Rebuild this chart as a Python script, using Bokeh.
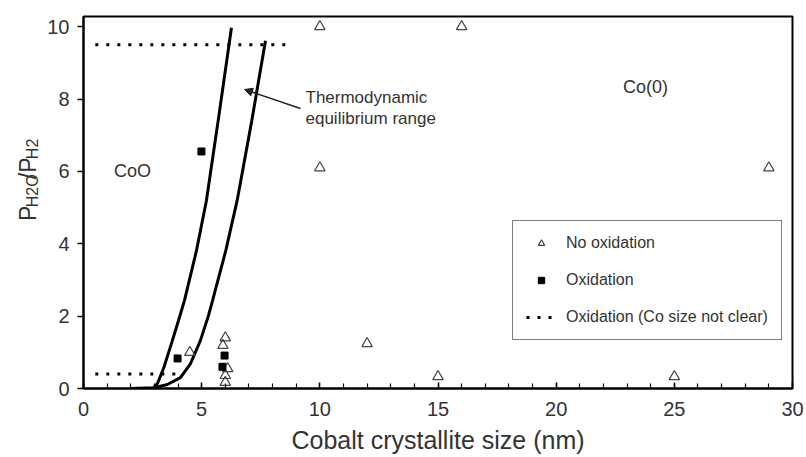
import math
from bokeh.plotting import figure
from bokeh.layouts import row
from bokeh.models import (Range1d, SingleIntervalTicker, FixedTicker, Label, Arrow,
                          NormalHead, Legend, LegendItem)
from bokeh.core.properties import value
from bokeh.embed import file_html
from bokeh.resources import INLINE

# ---------------- data ----------------
no_ox_x = [4.5, 5.9, 6.0, 6.1, 6.0, 6.0, 10, 16, 10, 29, 12, 15, 25]
no_ox_y = [1.0, 1.19, 1.4, 0.55, 0.36, 0.17, 10, 10, 6.1, 6.1, 1.24, 0.33, 0.33]

ox_x = [3.98, 5.97, 5.88, 4.99]
ox_y = [0.83, 0.91, 0.60, 6.55]

unclear_y = [9.5, 0.4]
unclear_x0 = [0.5, 0.5]
unclear_x1 = [8.8, 4.0]

eq_left_x = [1.99, 2.96, 3.13, 3.40, 3.72, 4.02, 4.27, 4.78, 5.20, 5.72, 6.26]
eq_left_y = [0.0, 0.02, 0.14, 0.58, 1.24, 1.88, 2.43, 3.81, 5.19, 7.50, 9.97]
eq_right_x = [3.05, 3.55, 4.10, 4.53, 4.95, 5.29, 5.46, 6.02, 6.50, 7.12, 7.70]
eq_right_y = [0.03, 0.11, 0.30, 0.69, 1.33, 2.02, 2.43, 3.81, 5.19, 7.40, 9.61]

y_ticks = [0, 2, 4, 6, 8, 10]

FONT = "Liberation Sans"
TXT = "#333333"

W, H = 806, 457
LBL_W = 40

p = figure(width=W - LBL_W, height=H, x_range=Range1d(0, 30), y_range=Range1d(0, 10.28),
           output_backend="svg", toolbar_location=None,
           min_border_left=83 - LBL_W, min_border_right=14, min_border_top=16,
           min_border_bottom=69)
p.xgrid.visible = False
p.ygrid.visible = False
p.outline_line_color = "black"
p.outline_line_width = 2
p.background_fill_color = "white"
p.border_fill_color = "white"

# x axis
xa = p.xaxis[0]
xa.ticker = SingleIntervalTicker(interval=5, num_minor_ticks=5)
xa.axis_line_width = 2
xa.axis_line_color = "black"
xa.major_tick_in = 6
xa.major_tick_out = 0
xa.minor_tick_in = 5
xa.minor_tick_out = 0
xa.major_tick_line_width = 1.5
xa.minor_tick_line_width = 1.2
xa.major_label_text_font = FONT
xa.major_label_text_font_size = "20px"
xa.major_label_text_color = TXT
xa.major_label_standoff = 13
xa.axis_label = "Cobalt crystallite size (nm)"
xa.axis_label_text_font = FONT
xa.axis_label_text_font_size = "25px"
xa.axis_label_text_font_style = "normal"
xa.axis_label_text_color = TXT
xa.axis_label_standoff = 7

# y axis
ya = p.yaxis[0]
ya.ticker = FixedTicker(ticks=y_ticks)
ya.axis_line_width = 2
ya.axis_line_color = "black"
ya.major_tick_in = 0
ya.major_tick_out = 6
ya.minor_tick_in = 0
ya.minor_tick_out = 0
ya.major_tick_line_width = 1.5
ya.major_label_text_font = FONT
ya.major_label_text_font_size = "20px"
ya.major_label_text_color = TXT
ya.major_label_standoff = 8

# ---------------- glyphs ----------------
r_left = p.line(eq_left_x, eq_left_y, line_color="black", line_width=3)
r_right = p.line(eq_right_x, eq_right_y, line_color="black", line_width=3)

r_unclear = p.segment(x0=unclear_x0, y0=unclear_y, x1=unclear_x1, y1=unclear_y,
                      line_color="black", line_width=3, line_dash="3 8")

r_tri = p.scatter(no_ox_x, no_ox_y, marker="triangle", size=10.5, fill_color=None,
                  line_color="#444444", line_width=1.2)
r_sq = p.scatter(ox_x, ox_y, marker="square", size=7, fill_color="black",
                 line_color="black")

# ---------------- annotations ----------------
def px_x(px):
    return (px - 83) / (709 / 30)

def px_y(py):
    return (388 - py) / (372 / 10.28)

p.add_layout(Label(x=px_x(132), y=px_y(170), text="CoO", text_align="center",
                   text_baseline="middle", text_font=FONT, text_font_size="18px",
                   text_color=TXT))
p.add_layout(Label(x=px_x(645), y=px_y(86), text="Co(0)", text_align="center",
                   text_baseline="middle", text_font=FONT, text_font_size="18px",
                   text_color=TXT))
p.add_layout(Label(x=px_x(305), y=px_y(97), text="Thermodynamic", text_align="left",
                   text_baseline="middle", text_font=FONT, text_font_size="17px",
                   text_color=TXT))
p.add_layout(Label(x=px_x(305), y=px_y(118), text="equilibrium range", text_align="left",
                   text_baseline="middle", text_font=FONT, text_font_size="17px",
                   text_color=TXT))
p.add_layout(Arrow(x_start=px_x(300), y_start=px_y(108), x_end=px_x(244), y_end=px_y(89),
                   line_color="#222222", line_width=1.5,
                   end=NormalHead(size=8, fill_color="#222222", line_color="#222222")))

# ---------------- legend ----------------
legend = Legend(items=[
    LegendItem(label="No oxidation", renderers=[r_tri]),
    LegendItem(label="Oxidation", renderers=[r_sq]),
    LegendItem(label="Oxidation (Co size not clear)", renderers=[r_unclear]),
], location=(429, 48), orientation="vertical")
legend.label_text_font = FONT
legend.label_text_font_size = "16px"
legend.label_text_color = TXT
legend.glyph_width = 30
legend.glyph_height = 16
legend.label_height = 16
legend.label_standoff = 10
legend.spacing = 19
legend.padding = 13
legend.margin = 0
legend.border_line_color = "black"
legend.border_line_width = 1.5
legend.background_fill_color = "white"
legend.background_fill_alpha = 1
p.add_layout(legend)

# ---------------- y-axis title (P_H2O / P_H2) in a narrow side figure ----------------
lf = figure(width=LBL_W, height=H, x_range=Range1d(0, LBL_W), y_range=Range1d(0, H),
            output_backend="svg", toolbar_location=None, min_border=0,
            x_axis_type=None, y_axis_type=None)
lf.outline_line_color = None
lf.xgrid.visible = False
lf.ygrid.visible = False
lf.background_fill_color = "white"
lf.border_fill_color = "white"

pieces = [("P", 23, 0), ("H2O", 16, 5), ("/", 23, 0), ("P", 23, 0), ("H2", 16, 5)]
widths = {"P": 0.667, "H": 0.722, "2": 0.556, "O": 0.778, "/": 0.278}
GAP = 1.5
total = sum(sum(widths[c] for c in t) * s for t, s, _ in pieces) + GAP * (len(pieces) - 1)
cur = 203 + total / 2
lx, ly, lt, ls = [], [], [], []
for t, s, off in pieces:
    lx.append(27 + off)
    ly.append(H - cur)
    lt.append(t)
    ls.append(f"{s}px")
    cur -= sum(widths[c] for c in t) * s + GAP
lf.text(x=lx, y=ly, text=lt, text_font_size=ls, angle=math.pi / 2,
        text_align="left", text_baseline="alphabetic",
        text_font=value(FONT), text_color=TXT)

layout = row(lf, p, spacing=0)
open("out.html", "w").write(file_html(layout, INLINE))
